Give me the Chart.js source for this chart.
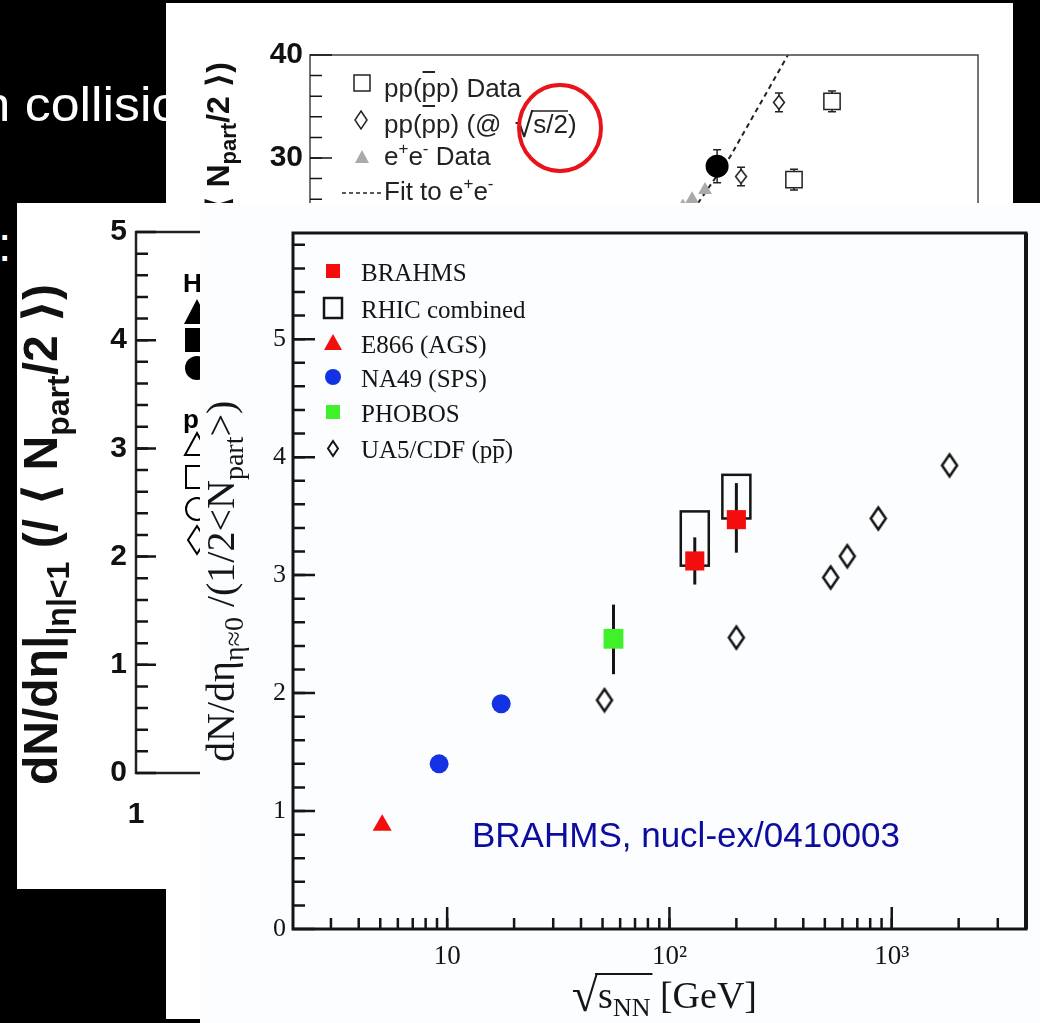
<!DOCTYPE html>
<html>
<head>
<meta charset="utf-8">
<title>dN/deta per participant pair vs sqrt(sNN)</title>
<script src="https://cdn.jsdelivr.net/npm/chart.js@4.4.1/dist/chart.umd.min.js"></script>
<style>
    body { margin: 0; width: 1040px; height: 1023px; background: #000; position: relative; overflow: hidden; font-family: "Liberation Sans", Arial, sans-serif; }
    .slideText { position: absolute; color: #fff; font-size: 48px; line-height: 48px; white-space: nowrap; }
    .panel { position: absolute; overflow: hidden; background: #fff; }
    canvas { display: block; }
</style>
</head>
<body>

<div class="slideText" style="left:-30px; top:81px; transform:scaleX(1.08); transform-origin:0 0;">in collisions</div>
<div class="slideText" style="left:-2px; top:221px;">:</div>

<div class="panel" style="left:166px; top:3px; width:847px; height:1016px;">
    <canvas id="topChart" width="847" height="1016"></canvas>
</div>

<div class="panel" style="left:17px; top:203px; width:700px; height:686px;">
    <canvas id="leftChart" width="700" height="686"></canvas>
</div>

<div class="panel" style="left:200px; top:203px; width:840px; height:820px; background:#fbfdfe;">
    <canvas id="mainChart" width="840" height="820"></canvas>
</div>

<script>

const SERIF = "'Liberation Serif', 'Times New Roman', serif";
const SANS = "'Liberation Sans', Arial, 'DejaVu Sans', sans-serif";
const INK = "#151515";

// main figure (BRAHMS, nucl-ex/0410003)

const brahmsX = [130, 200];
const brahmsY = [3.12, 3.47];
const brahmsLow = [2.92, 3.19];
const brahmsHigh = [3.32, 3.78];

const rhicX = [130, 200];
const rhicLow = [3.08, 3.48];
const rhicHigh = [3.54, 3.85];

const e866X = [5.1];
const e866Y = [0.88];

const na49X = [9.2, 17.5];
const na49Y = [1.40, 1.91];

const phobosX = [56];
const phobosY = [2.46];
const phobosLow = [2.16];
const phobosHigh = [2.75];

const ua5X = [51, 200, 531, 631, 870, 1820];
const ua5Y = [1.94, 2.47, 2.98, 3.16, 3.48, 3.93];

const mainYTicks = [0, 1, 2, 3, 4, 5];
const mainXTicks = [10, 100, 1000];
const mainXTickText = ["10", "10²", "10³"];
const mainLegend = ["BRAHMS", "RHIC combined", "E866 (AGS)", "NA49 (SPS)", "PHOBOS", "UA5/CDF (pp)"];

// slide figure behind, top

const ppX = [791, 1336];
const ppY = [27.9, 35.5];
const ppLow = [26.9, 34.5];
const ppHigh = [28.9, 36.5];

const halfX = [381, 643];
const halfY = [28.2, 35.4];
const halfLow = [27.3, 34.5];
const halfHigh = [29.1, 36.3];

const auX = [274];
const auY = [29.2];
const auLow = [27.6];
const auHigh = [30.8];

const eeX = [171, 194, 232];
const eeY = [25.3, 26.0, 26.9];

const fitX = [210, 327, 728];
const fitY = [25.6, 30.1, 40];

const topYTicks = [30, 40];

// slide figure behind, left

const leftYTicks = [0, 1, 2, 3, 4, 5];
const leftXTicks = [1];

Chart.defaults.font.family = SANS;

function points(xs, ys) {
    return xs.map((x, i) => ({ x: x, y: ys[i] }));
}

function diamondImage(w, h, lw, color) {
    const c = document.createElement("canvas");
    c.width = w;
    c.height = h;
    const g = c.getContext("2d");
    g.beginPath();
    g.moveTo(w / 2, lw);
    g.lineTo(w - lw, h / 2);
    g.lineTo(w / 2, h - lw);
    g.lineTo(lw, h / 2);
    g.closePath();
    g.fillStyle = "#fff";
    g.fill();
    g.lineWidth = lw;
    g.strokeStyle = color;
    g.stroke();
    return c;
}

function minorValues(from, to, step) {
    const out = [];
    for (let v = from; v <= to + 1e-9; v += step) out.push(Math.round(v * 1000) / 1000);
    return out;
}

function logValues(min, max) {
    const out = [];
    for (let e = Math.floor(Math.log10(min)); e <= Math.ceil(Math.log10(max)); e++) {
        for (let k = 1; k < 10; k++) {
            const v = k * Math.pow(10, e);
            if (v > min && v < max) out.push(v);
        }
    }
    return out;
}

function inwardTicks(chart, axis, values, len, width) {
    const { ctx, chartArea } = chart;
    const scale = chart.scales[axis];
    ctx.save();
    ctx.strokeStyle = INK;
    ctx.lineWidth = width;
    ctx.beginPath();
    values.forEach((v) => {
        const p = scale.getPixelForValue(v);
        if (axis === "x") {
            ctx.moveTo(p, chartArea.bottom);
            ctx.lineTo(p, chartArea.bottom - len);
        } else {
            ctx.moveTo(chartArea.left, p);
            ctx.lineTo(chartArea.left + len, p);
        }
    });
    ctx.stroke();
    ctx.restore();
}

function errorBars(ctx, xs, ys, xv, lo, hi, cap) {
    xv.forEach((v, i) => {
        const px = xs.getPixelForValue(v);
        const a = ys.getPixelForValue(lo[i]);
        const b = ys.getPixelForValue(hi[i]);
        ctx.beginPath();
        ctx.moveTo(px, a);
        ctx.lineTo(px, b);
        if (cap) {
            ctx.moveTo(px - cap, a);
            ctx.lineTo(px + cap, a);
            ctx.moveTo(px - cap, b);
            ctx.lineTo(px + cap, b);
        }
        ctx.stroke();
    });
}

// draws text pieces one after another, returns end x
function rich(ctx, parts, x, y) {
    let cx = x;
    parts.forEach((p) => {
        ctx.font = p.font;
        ctx.fillText(p.t, cx, y + (p.dy || 0));
        cx += ctx.measureText(p.t).width;
    });
    return cx;
}

function richWidth(ctx, parts) {
    let w = 0;
    parts.forEach((p) => {
        ctx.font = p.font;
        w += ctx.measureText(p.t).width;
    });
    return w;
}

function rotatedRich(ctx, parts, x, y) {
    ctx.save();
    ctx.translate(x, y);
    ctx.rotate(-Math.PI / 2);
    rich(ctx, parts, 0, 0);
    ctx.restore();
}

function overline(ctx, x1, x2, y, w) {
    ctx.save();
    ctx.lineWidth = w;
    ctx.beginPath();
    ctx.moveTo(x1, y);
    ctx.lineTo(x2, y);
    ctx.stroke();
    ctx.restore();
}

function fixedAxes(yWidth, xHeight) {
    return {
        y: (s) => { s.width = yWidth; },
        x: (s) => { s.height = xHeight; }
    };
}

const baseOptions = {
    responsive: false,
    animation: false,
    events: [],
    plugins: { legend: { display: false }, tooltip: { enabled: false } }
};

// ---------------- main chart ----------------

const ua5Marker = diamondImage(20, 27, 2.5, INK);

const mainDecor = {

    id: "mainDecor",

    beforeDatasetsDraw(chart) {

        const { ctx } = chart;
        const xs = chart.scales.x;
        const ys = chart.scales.y;

        ctx.save();
        ctx.strokeStyle = INK;
        ctx.lineWidth = 2.5;

        rhicX.forEach((v, i) => {
            const px = xs.getPixelForValue(v);
            const top = ys.getPixelForValue(rhicHigh[i]);
            const bottom = ys.getPixelForValue(rhicLow[i]);
            ctx.strokeRect(px - 14, top, 28, bottom - top);
        });

        ctx.lineWidth = 3;
        errorBars(ctx, xs, ys, brahmsX, brahmsLow, brahmsHigh, 0);
        errorBars(ctx, xs, ys, phobosX, phobosLow, phobosHigh, 0);

        ctx.restore();

    },

    afterDraw(chart) {

        const { ctx, chartArea } = chart;
        const ds = chart.data.datasets;

        // frame
        ctx.save();
        ctx.strokeStyle = INK;
        ctx.lineWidth = 3;
        ctx.strokeRect(chartArea.left, chartArea.top, chartArea.right - chartArea.left, chartArea.bottom - chartArea.top);
        ctx.lineWidth = 4;
        ctx.beginPath();
        ctx.moveTo(chartArea.right, chartArea.top);
        ctx.lineTo(chartArea.right, chartArea.bottom);
        ctx.stroke();
        ctx.restore();

        inwardTicks(chart, "y", minorValues(0.2, 5.8, 0.2), 12, 2.5);
        inwardTicks(chart, "y", mainYTicks, 22, 2.5);
        inwardTicks(chart, "x", logValues(chart.scales.x.min, chart.scales.x.max), 11, 2.5);
        inwardTicks(chart, "x", mainXTicks, 22, 2.5);

        // legend
        const mx = 133;
        const tx = 161;
        const rows = [68, 105, 140, 174, 209, 245];

        ctx.save();
        ctx.fillStyle = ds[0].backgroundColor;
        ctx.fillRect(mx - 7, rows[0] - 7, 14, 14);

        ctx.strokeStyle = INK;
        ctx.lineWidth = 2.5;
        ctx.strokeRect(mx - 9, rows[1] - 10, 18, 20);

        ctx.fillStyle = ds[1].backgroundColor;
        ctx.beginPath();
        ctx.moveTo(mx, rows[2] - 9);
        ctx.lineTo(mx + 9, rows[2] + 7);
        ctx.lineTo(mx - 9, rows[2] + 7);
        ctx.closePath();
        ctx.fill();

        ctx.fillStyle = ds[2].backgroundColor;
        ctx.beginPath();
        ctx.arc(mx, rows[3], 8, 0, Math.PI * 2);
        ctx.fill();

        ctx.fillStyle = ds[3].backgroundColor;
        ctx.fillRect(mx - 7, rows[4] - 7, 14, 14);

        ctx.drawImage(diamondImage(14, 19, 2, INK), mx - 7, rows[5] - 9);

        ctx.fillStyle = INK;
        ctx.font = `25px ${SERIF}`;
        mainLegend.forEach((label, i) => {
            ctx.fillText(label, tx, rows[i] + 10);
        });
        const lastStart = tx + ctx.measureText("UA5/CDF (p").width;
        const lastEnd = tx + ctx.measureText("UA5/CDF (pp").width;
        overline(ctx, lastStart + 1, lastEnd, rows[5] - 8, 1.8);

        // annotation
        ctx.fillStyle = "#0c0c9e";
        ctx.font = `35px ${SANS}`;
        ctx.fillText("BRAHMS, nucl-ex/0410003", 272, 644);

        // x title
        ctx.fillStyle = INK;
        const xParts = [
            { t: "√", font: `48px ${SERIF}`, dy: 3 },
            { t: "s", font: `38px ${SERIF}` },
            { t: "NN", font: `26px ${SERIF}`, dy: 8 },
            { t: " [GeV]", font: `38px ${SERIF}` }
        ];
        const xw = richWidth(ctx, xParts);
        const x0 = 557 - xw;
        rich(ctx, xParts, x0, 805);
        ctx.font = `48px ${SERIF}`;
        const rootEnd = x0 + ctx.measureText("√").width;
        const rootTop = 808 - ctx.measureText("√").actualBoundingBoxAscent;
        ctx.font = `38px ${SERIF}`;
        const sW = ctx.measureText("s").width;
        ctx.font = `26px ${SERIF}`;
        const nnW = ctx.measureText("NN").width;
        ctx.strokeStyle = INK;
        overline(ctx, rootEnd - 3, rootEnd + sW + nnW + 2, rootTop + 1, 2);

        // y title
        const yParts = [
            { t: "dN/dη", font: `40px ${SERIF}` },
            { t: "η≈0", font: `28px ${SERIF}`, dy: 9 },
            { t: " /(1/2<N", font: `40px ${SERIF}` },
            { t: "part", font: `28px ${SERIF}`, dy: 9 },
            { t: ">)", font: `40px ${SERIF}` }
        ];
        rotatedRich(ctx, yParts, 34, 559);

        ctx.restore();

    }

};

new Chart(document.getElementById("mainChart"), {

    type: "scatter",

    data: {

        datasets: [
            {
                label: "BRAHMS",
                data: points(brahmsX, brahmsY),
                pointStyle: "rect",
                pointRadius: 13.5,
                backgroundColor: "#f30d0d",
                borderWidth: 0
            },
            {
                label: "E866 (AGS)",
                data: points(e866X, e866Y),
                pointStyle: "triangle",
                pointRadius: 11,
                backgroundColor: "#f30d0d",
                borderWidth: 0
            },
            {
                label: "NA49 (SPS)",
                data: points(na49X, na49Y),
                pointStyle: "circle",
                pointRadius: 9.5,
                backgroundColor: "#1232e4",
                borderWidth: 0
            },
            {
                label: "PHOBOS",
                data: points(phobosX, phobosY),
                pointStyle: "rect",
                pointRadius: 14,
                backgroundColor: "#3ff02b",
                borderWidth: 0
            },
            {
                label: "UA5/CDF",
                data: points(ua5X, ua5Y),
                pointStyle: ua5Marker
            }
        ]

    },

    options: {

        ...baseOptions,

        layout: { padding: { top: 30, right: 10, left: 0, bottom: 0 } },

        scales: {

            x: {
                type: "logarithmic",
                min: 2.025,
                max: 4018,
                grid: { display: false, drawTicks: false },
                border: { display: false },
                afterFit: fixedAxes(93, 94).x,
                afterBuildTicks: (s) => { s.ticks = mainXTicks.map((v) => ({ value: v })); },
                ticks: {
                    autoSkip: false,
                    maxRotation: 0,
                    padding: 12,
                    color: INK,
                    font: { family: SERIF, size: 27 },
                    callback: (v) => mainXTickText[mainXTicks.indexOf(v)]
                }
            },

            y: {
                min: 0,
                max: 5.9,
                grid: { display: false, drawTicks: false },
                border: { display: false },
                afterFit: fixedAxes(93, 94).y,
                afterBuildTicks: (s) => { s.ticks = mainYTicks.map((v) => ({ value: v })); },
                ticks: {
                    autoSkip: false,
                    padding: 7,
                    color: INK,
                    font: { family: SERIF, size: 26 }
                }
            }

        }

    },

    plugins: [mainDecor]

});

// ---------------- top slide chart ----------------

const topDecor = {

    id: "topDecor",

    beforeDatasetsDraw(chart) {

        const { ctx } = chart;
        const xs = chart.scales.x;
        const ys = chart.scales.y;

        ctx.save();
        ctx.strokeStyle = "#222";
        ctx.lineWidth = 1.5;
        errorBars(ctx, xs, ys, ppX, ppLow, ppHigh, 4);
        errorBars(ctx, xs, ys, halfX, halfLow, halfHigh, 4);
        errorBars(ctx, xs, ys, auX, auLow, auHigh, 4);
        ctx.restore();

    },

    afterDraw(chart) {

        const { ctx, chartArea } = chart;

        ctx.save();
        ctx.strokeStyle = "#444";
        ctx.lineWidth = 1.5;
        ctx.strokeRect(chartArea.left, chartArea.top, chartArea.right - chartArea.left, chartArea.bottom - chartArea.top);
        ctx.restore();

        inwardTicks(chart, "y", minorValues(2, 38, 2), 12, 1.5);
        inwardTicks(chart, "y", topYTicks, 22, 1.5);

        // legend
        ctx.save();
        ctx.strokeStyle = "#222";
        ctx.fillStyle = "#222";
        ctx.lineWidth = 1.5;

        ctx.strokeRect(188, 72, 16, 16);

        ctx.beginPath();
        ctx.moveTo(195, 108);
        ctx.lineTo(201, 117);
        ctx.lineTo(195, 126);
        ctx.lineTo(189, 117);
        ctx.closePath();
        ctx.stroke();

        ctx.fillStyle = "#aaa";
        ctx.beginPath();
        ctx.moveTo(196, 147);
        ctx.lineTo(203, 160);
        ctx.lineTo(189, 160);
        ctx.closePath();
        ctx.fill();

        ctx.setLineDash([4, 3]);
        ctx.beginPath();
        ctx.moveTo(176, 190);
        ctx.lineTo(216, 190);
        ctx.stroke();
        ctx.setLineDash([]);

        const font = `26px ${SANS}`;
        const sup = `17px ${SANS}`;
        const tx = 218;
        ctx.fillStyle = "#222";
        ctx.font = font;

        ctx.fillText("pp(pp) Data", tx, 94);
        let a = tx + ctx.measureText("pp(").width;
        let b = tx + ctx.measureText("pp(p").width;
        overline(ctx, a + 1, b - 1, 69, 2);

        const row2 = "pp(pp) (@ ";
        ctx.fillText(row2, tx, 130);
        a = tx + ctx.measureText("pp(").width;
        b = tx + ctx.measureText("pp(p").width;
        overline(ctx, a + 1, b - 1, 103, 2);
        const rootX = tx + ctx.measureText(row2).width + 6;
        ctx.font = `34px ${SANS}`;
        ctx.fillText("√", rootX, 134);
        const sx = rootX + ctx.measureText("√").width;
        const rootTop = 134 - ctx.measureText("√").actualBoundingBoxAscent;
        ctx.font = font;
        ctx.fillText("s/2)", sx, 130);
        overline(ctx, sx - 2, sx + ctx.measureText("s/2").width, rootTop + 1, 1.5);

        rich(ctx, [
            { t: "e", font: font },
            { t: "+", font: sup, dy: -11 },
            { t: "e", font: font },
            { t: "-", font: sup, dy: -11 },
            { t: " Data", font: font }
        ], tx, 162);

        rich(ctx, [
            { t: "Fit to e", font: font },
            { t: "+", font: sup, dy: -11 },
            { t: "e", font: font },
            { t: "-", font: sup, dy: -11 }
        ], tx, 197);

        // y title
        const tParts = [
            { t: "dN/dη (/ ⟨ N", font: `bold 32px ${SANS}` },
            { t: "part", font: `bold 22px ${SANS}`, dy: 7 },
            { t: "/2 ⟩)", font: `bold 32px ${SANS}` }
        ];
        const tw = richWidth(ctx, tParts);
        ctx.fillStyle = "#111";
        rotatedRich(ctx, tParts, 63, 59 + tw);

        // red highlight circle
        ctx.strokeStyle = "#e8141c";
        ctx.lineWidth = 4;
        ctx.beginPath();
        ctx.ellipse(394, 125, 41, 43, 0, 0, Math.PI * 2);
        ctx.stroke();

        ctx.restore();

    }

};

new Chart(document.getElementById("topChart"), {

    type: "scatter",

    data: {

        datasets: [
            {
                data: points(ppX, ppY),
                pointStyle: "rect",
                pointRadius: 11.5,
                backgroundColor: "#fff",
                borderColor: "#222",
                borderWidth: 1.5
            },
            {
                data: points(halfX, halfY),
                pointStyle: diamondImage(14, 17, 1.6, "#222")
            },
            {
                data: points(auX, auY),
                pointStyle: "circle",
                pointRadius: 11.5,
                backgroundColor: "#000",
                borderWidth: 0
            },
            {
                data: points(eeX, eeY),
                pointStyle: "triangle",
                pointRadius: 8,
                backgroundColor: "#aaa",
                borderWidth: 0
            },
            {
                type: "line",
                data: points(fitX, fitY),
                borderColor: "#222",
                borderWidth: 2,
                borderDash: [5, 4],
                pointRadius: 0,
                fill: false
            }
        ]

    },

    options: {

        ...baseOptions,

        layout: { padding: { top: 52, right: 35, left: 0, bottom: 0 } },

        scales: {

            x: {
                type: "logarithmic",
                min: 1,
                max: 10000,
                display: true,
                grid: { display: false, drawTicks: false },
                border: { display: false },
                afterFit: fixedAxes(144, 552).x,
                ticks: { display: false }
            },

            y: {
                min: 0,
                max: 40,
                grid: { display: false, drawTicks: false },
                border: { display: false },
                afterFit: fixedAxes(144, 552).y,
                afterBuildTicks: (s) => { s.ticks = topYTicks.map((v) => ({ value: v })); },
                ticks: {
                    padding: 7,
                    color: "#111",
                    font: { family: SANS, size: 30, weight: "bold" }
                }
            }

        }

    },

    plugins: [topDecor]

});

// ---------------- left slide chart ----------------

const leftDecor = {

    id: "leftDecor",

    afterDraw(chart) {

        const { ctx, chartArea } = chart;

        ctx.save();
        ctx.strokeStyle = "#222";
        ctx.lineWidth = 2.5;
        ctx.strokeRect(chartArea.left, chartArea.top, chartArea.right - chartArea.left, chartArea.bottom - chartArea.top);
        ctx.restore();

        inwardTicks(chart, "y", minorValues(0.2, 4.8, 0.2), 12, 2.5);
        inwardTicks(chart, "y", leftYTicks, 20, 2.5);

        // legend fragments (mostly hidden behind the front figure)
        ctx.save();
        ctx.fillStyle = "#000";
        ctx.strokeStyle = "#000";
        ctx.lineWidth = 2;
        ctx.font = `bold 26px ${SANS}`;
        ctx.fillText("Heavy Ion", 166, 89);

        const mx = 180;
        ctx.beginPath();
        ctx.moveTo(mx, 96);
        ctx.lineTo(mx + 13, 121);
        ctx.lineTo(mx - 13, 121);
        ctx.closePath();
        ctx.fill();
        ctx.fillRect(mx - 12, 125, 24, 24);
        ctx.beginPath();
        ctx.arc(mx, 165, 12, 0, Math.PI * 2);
        ctx.fill();

        ctx.fillText("p(p)", 166, 225);

        ctx.beginPath();
        ctx.moveTo(mx, 230);
        ctx.lineTo(mx + 12, 252);
        ctx.lineTo(mx - 12, 252);
        ctx.closePath();
        ctx.stroke();
        ctx.strokeRect(mx - 11, 263, 22, 22);
        ctx.beginPath();
        ctx.arc(mx, 306, 11, 0, Math.PI * 2);
        ctx.stroke();
        ctx.beginPath();
        ctx.moveTo(mx, 323);
        ctx.lineTo(mx + 9, 337);
        ctx.lineTo(mx, 351);
        ctx.lineTo(mx - 9, 337);
        ctx.closePath();
        ctx.stroke();

        // y title, stretched along the axis
        const base = [
            { t: "dN/dη|", size: 42, dy: 0 },
            { t: "|η|<1", size: 28, dy: 10 },
            { t: " (/ ⟨ N", size: 42, dy: 0 },
            { t: "part", size: 28, dy: 10 },
            { t: "/2 ⟩)", size: 42, dy: 0 }
        ];
        const mk = (k) => base.map((p) => ({ t: p.t, font: `bold ${Math.round(p.size * k)}px ${SANS}`, dy: p.dy * k }));
        const k = 557 / richWidth(ctx, mk(1));
        ctx.fillStyle = "#111";
        rotatedRich(ctx, mk(Math.min(k, 1.15)), 40, 582);

        ctx.restore();

    }

};

new Chart(document.getElementById("leftChart"), {

    type: "scatter",

    data: { datasets: [] },

    options: {

        ...baseOptions,

        layout: { padding: { top: 29, right: 20, left: 0, bottom: 0 } },

        scales: {

            x: {
                type: "logarithmic",
                min: 1,
                max: 1000,
                grid: { display: false, drawTicks: false },
                border: { display: false },
                afterFit: fixedAxes(119, 116).x,
                afterBuildTicks: (s) => { s.ticks = leftXTicks.map((v) => ({ value: v })); },
                ticks: {
                    autoSkip: false,
                    maxRotation: 0,
                    padding: 24,
                    color: "#111",
                    font: { family: SANS, size: 30, weight: "bold" },
                    callback: (v) => String(v)
                }
            },

            y: {
                min: 0,
                max: 5,
                grid: { display: false, drawTicks: false },
                border: { display: false },
                afterFit: fixedAxes(119, 116).y,
                afterBuildTicks: (s) => { s.ticks = leftYTicks.map((v) => ({ value: v })); },
                ticks: {
                    padding: 9,
                    color: "#111",
                    font: { family: SANS, size: 30, weight: "bold" }
                }
            }

        }

    },

    plugins: [leftDecor]

});

</script>

</body>
</html>
